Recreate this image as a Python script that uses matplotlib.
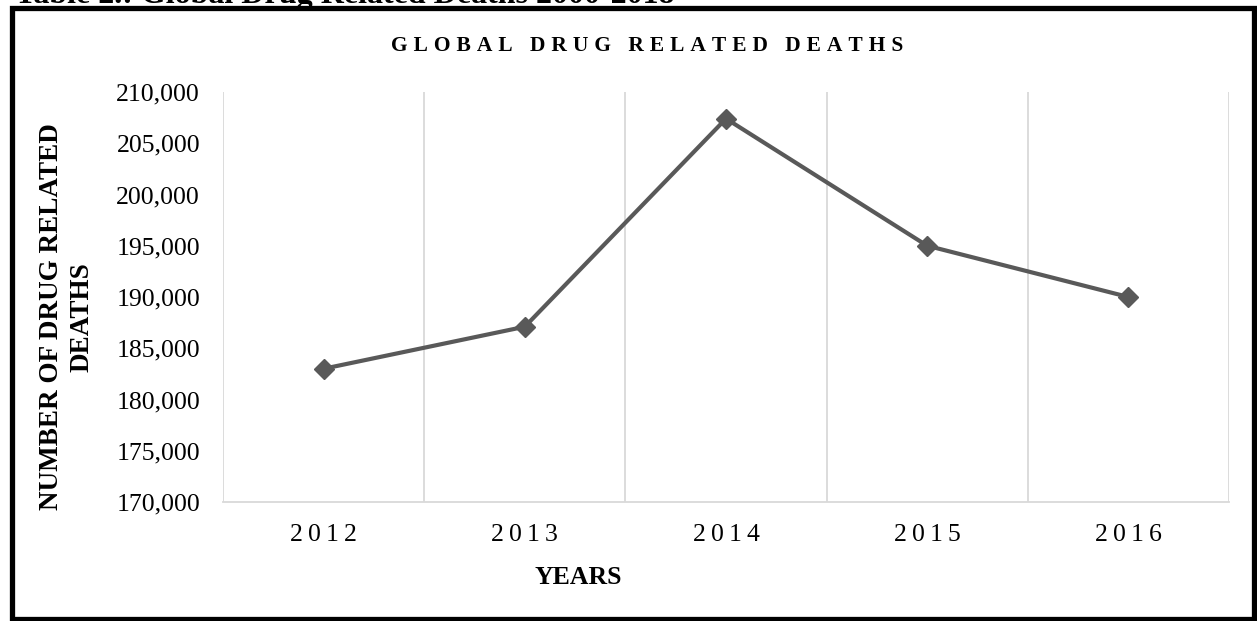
import matplotlib
matplotlib.use("Agg")
import matplotlib.pyplot as plt
from matplotlib.patches import Rectangle
from matplotlib.ticker import FixedLocator, FuncFormatter

# Data
years = ["2012", "2013", "2014", "2015", "2016"]
deaths = [183000, 187100, 207400, 195000, 190000]
y_ticks = [170000, 175000, 180000, 185000, 190000, 195000, 200000, 205000, 210000]

SERIF = ["Liberation Serif", "DejaVu Serif"]
SP = "\u2009"


def spaced(s, sep=SP):
    return sep.join(s)


W, H = 1257, 621
fig = plt.figure(figsize=(W / 100, H / 100), dpi=100)
fig.patch.set_facecolor("white")

ax = fig.add_axes([223 / W, 1 - 502 / H, (1229 - 223) / W, (502 - 92) / H])

x = list(range(len(years)))
ax.plot(x, deaths, color="#595959", linewidth=3.0, marker="D",
        markersize=10, markerfacecolor="#595959", markeredgecolor="#595959",
        solid_joinstyle="miter", zorder=3)

ax.set_xlim(-0.5, len(years) - 0.5)
ax.set_ylim(y_ticks[0], y_ticks[-1])

ax.set_xticks(x)
ax.set_xticklabels([spaced(y) for y in years], family=SERIF, fontsize=18.5)
ax.xaxis.set_minor_locator(FixedLocator([i - 0.5 for i in range(len(years) + 1)]))
ax.grid(True, which="minor", axis="x", color="#d9d9d9", linewidth=1.3)
ax.tick_params(axis="x", which="both", length=0, pad=16)

ax.set_yticks(y_ticks)
ax.yaxis.set_major_formatter(FuncFormatter(lambda v, p: f"{int(v):,}"))
for lab in ax.get_yticklabels():
    lab.set_family(SERIF)
    lab.set_fontsize(18.5)
ax.tick_params(axis="y", length=0, pad=16.5)

for side in ("top", "right", "left"):
    ax.spines[side].set_visible(False)
ax.spines["bottom"].set_color("#d9d9d9")
ax.spines["bottom"].set_linewidth(1.3)

# Titles
fig.text((383 + 912) / 2 / W, 1 - 46 / H, spaced("GLOBAL DRUG RELATED DEATHS", "\u2009\u200a"),
         family=SERIF, fontweight="bold", fontsize=15.5, ha="center", va="center")
fig.text(578 / W, 1 - 577 / H, "YEARS", family=SERIF, fontweight="bold",
         fontsize=18.5, ha="center", va="center")
fig.text(67 / W, 1 - 317 / H, "NUMBER OF DRUG RELATED\nDEATHS", family=SERIF,
         fontweight="bold", fontsize=19.5, ha="center", va="center",
         rotation=90, linespacing=1.3, multialignment="center")

# Caption running off the top edge
fig.text(15 / W, 1 - 3 / H, "Table 2.: Global Drug Related Deaths 2000-2018",
         family=SERIF, fontweight="bold", fontsize=23, ha="left", va="baseline")

# Outer frame
fig.add_artist(Rectangle((11.5 / W, 1 - 618.5 / H), (1254 - 11.5) / W, (618.5 - 7.5) / H,
                         transform=fig.transFigure, fill=False, edgecolor="black",
                         linewidth=3.8))

fig.savefig("out.png", dpi=100, facecolor="white")
